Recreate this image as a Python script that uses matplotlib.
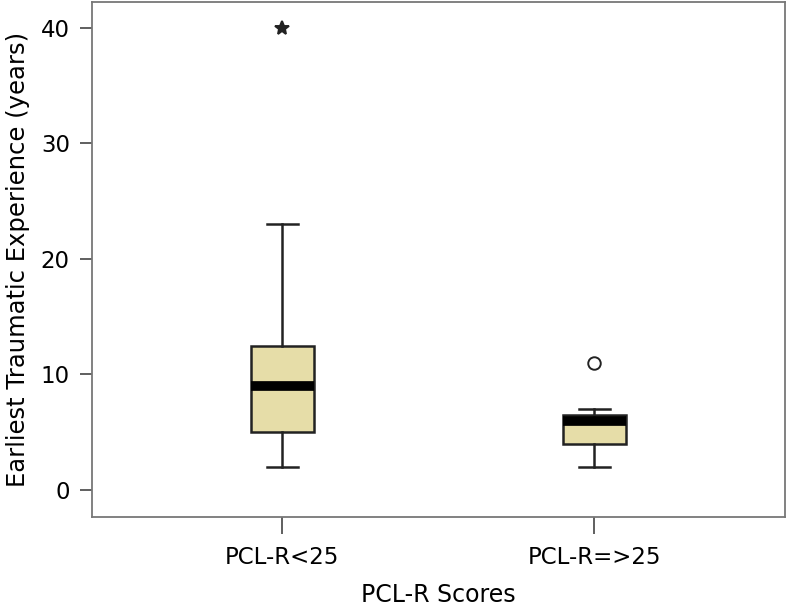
import matplotlib
matplotlib.use("Agg")
import matplotlib.pyplot as plt

plt.rcParams['font.family'] = ['DejaVu Sans']

# data
groups = ['PCL-R<25', 'PCL-R=>25']
whislo = [2, 2]
q1 = [5, 4]
med = [9, 6]
q3 = [12.5, 6.5]
whishi = [23, 7]
fliers = [[40], [11]]
flier_markers = ['*', 'o']

box_color = '#E6DDA8'
edge = '#222222'

fig = plt.figure(figsize=(7.87, 6.09), dpi=100)
ax = fig.add_axes([0.117, 0.151, 0.880, 0.846])

for i in range(len(groups)):
    stats = [dict(whislo=whislo[i], q1=q1[i], med=med[i], q3=q3[i],
                  whishi=whishi[i], fliers=fliers[i], label=groups[i])]
    mk = flier_markers[i]
    fp = dict(marker=mk, markersize=10 if mk == '*' else 9,
              markerfacecolor=edge if mk == '*' else 'white',
              markeredgecolor=edge, markeredgewidth=1.4)
    ax.bxp(stats, positions=[i + 1], widths=0.2, patch_artist=True,
           boxprops=dict(facecolor=box_color, edgecolor=edge, linewidth=1.8),
           medianprops=dict(color='black', linewidth=7, solid_capstyle='butt'),
           whiskerprops=dict(color=edge, linewidth=1.8),
           capprops=dict(color=edge, linewidth=1.8),
           capwidths=0.1, flierprops=fp, manage_ticks=False)

ax.set_xlim(0.39, 2.61)
ax.set_ylim(-2.34, 42.25)
ax.set_xticks([1, 2])
ax.set_xticklabels(groups)
ax.set_yticks([0, 10, 20, 30, 40])
ax.tick_params(direction='out', length=9, width=1.2, color='#444444',
               labelsize=16.5, pad=7)
ax.tick_params(axis='x', length=12, pad=9)
for s in ax.spines.values():
    s.set_color('#777777')
    s.set_linewidth(1.3)

ax.set_ylabel('Earliest Traumatic Experience (years)', fontsize=17.5, labelpad=8)
ax.set_xlabel('PCL-R Scores', fontsize=17, labelpad=10)

fig.savefig('out.png', dpi=100)
